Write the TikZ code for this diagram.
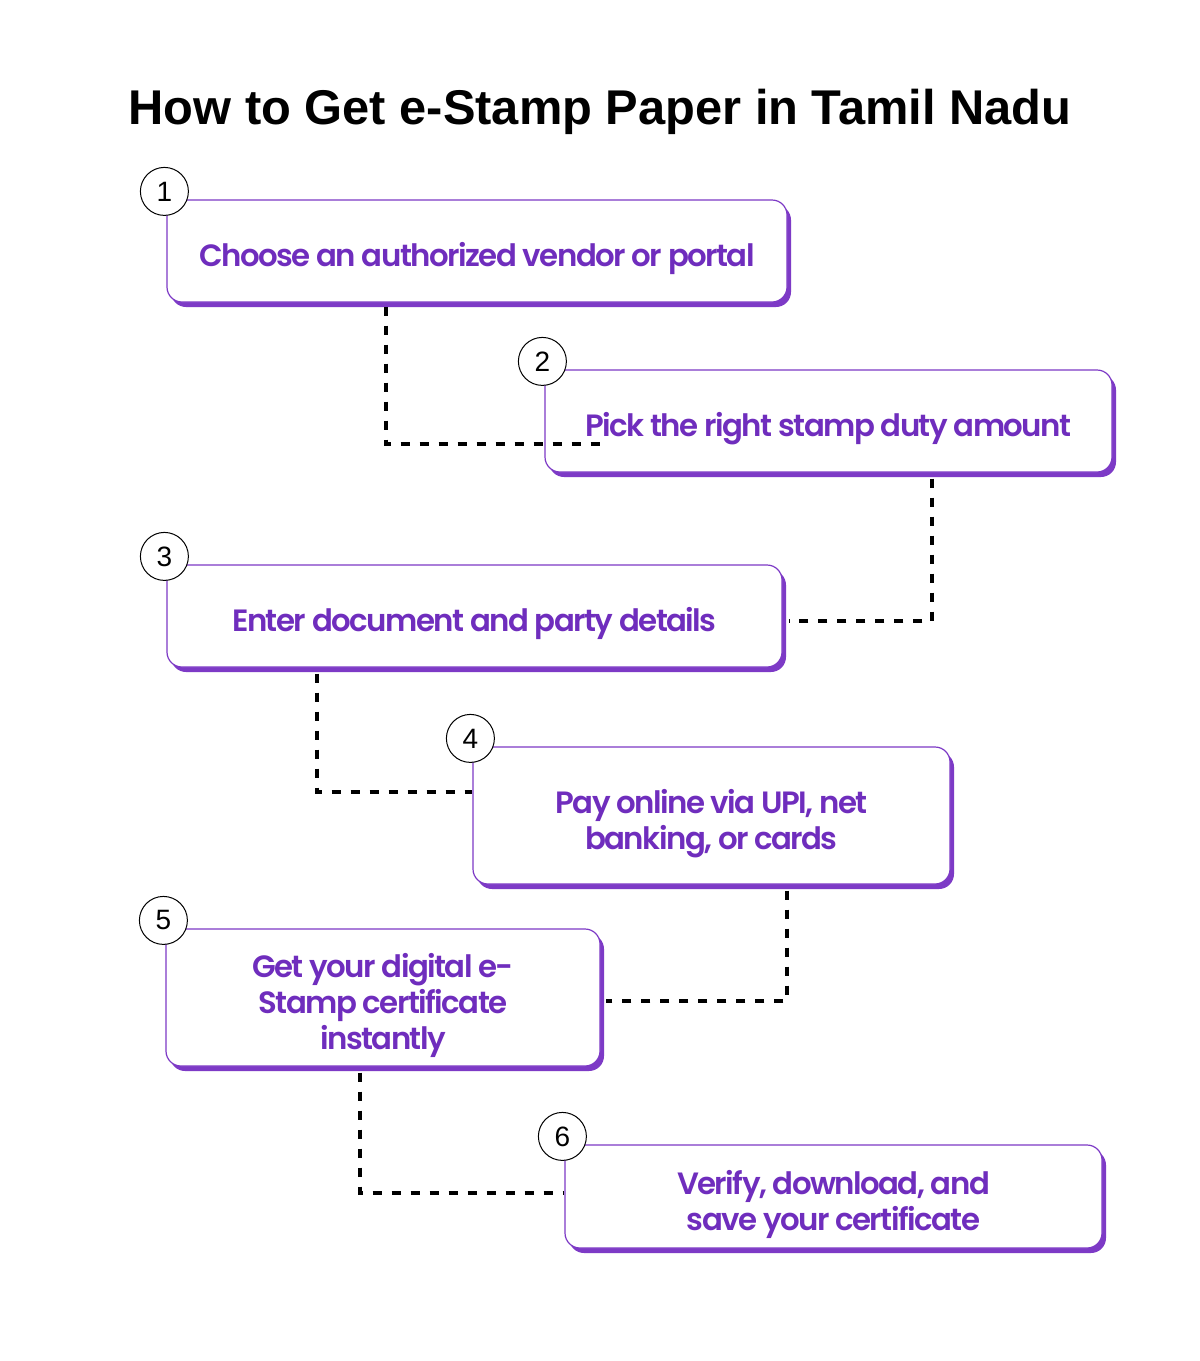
\documentclass[tikz,border=0pt]{standalone}
\usepackage{fontspec}
\usetikzlibrary{shadows}
\newfontfamily\titlefont{Liberation Sans}
\newfontfamily\stepfont{Poppins SemiBold}[LetterSpace=-5]
\definecolor{stepviolet}{HTML}{7D3AC6}
\definecolor{steptext}{HTML}{6F2DBD}
\newcommand{\steplift}{\rule{0pt}{15.5pt}}

\begin{document}
\begin{tikzpicture}[x=0.5pt, y=-0.5pt,
  stepbox/.style={draw=stepviolet, line width=0.6pt, fill=white, rounded corners=7.5pt,
    drop shadow={shadow xshift=2pt, shadow yshift=-2.5pt, fill=stepviolet, opacity=1},
    text=steptext, align=center, inner sep=0pt, text depth=0pt,
    font=\stepfont\fontsize{15.4}{18}\selectfont},
  stepnum/.style={circle, draw=black, line width=0.5pt, fill=white, minimum size=24pt,
    inner sep=0pt, font=\titlefont\fontsize{14}{14}\selectfont},
  link/.style={draw=black, line width=2pt, dash pattern=on 4.5pt off 5pt}]

  % ---- Canvas ----
  \fill[white] (0,0) rectangle (1200,1361);
  \useasboundingbox (0,0) rectangle (1200,1361);

  % ---- Title ----
  \node[font=\titlefont\bfseries\fontsize{24.4}{28}\selectfont] (title) at (600,112)
    {How to Get e-Stamp Paper in Tamil Nadu};

  % ---- Steps ----
  \node[stepbox, minimum width=310pt, minimum height=51pt] (s1) at (477,251)
    {\steplift Choose an authorized vendor or portal};
  \node[stepbox, minimum width=283.5pt, minimum height=51pt] (s2) at (828.5,421)
    {\steplift Pick the right stamp duty amount};
  \node[stepbox, minimum width=307.5pt, minimum height=51pt] (s3) at (474.5,616)
    {\steplift Enter document and party details};
  \node[stepbox, minimum width=238.5pt, minimum height=68.5pt] (s4) at (711.5,815.5)
    {\steplift Pay online via UPI, net\\banking, or cards};
  \node[stepbox, minimum width=217pt, minimum height=68.5pt] (s5) at (383,997.5)
    {\steplift Get your digital e-\\Stamp certificate\\instantly};
  \node[stepbox, minimum width=268.5pt, minimum height=51.5pt] (s6) at (833.5,1196.5)
    {\steplift Verify, download, and\\save your certificate};

  % ---- Step numbers ----
  \foreach \i in {1,...,6}
    \node[stepnum] (n\i) at ([shift={(-2,-8)}]s\i.north west) {\i};

  % ---- Dashed links ----
  \draw[link] ([shift={(-91,4)}]s1.south) |- ([shift={(58,23)}]s2.west);
  \draw[link] ([shift={(103.5,6)}]s2.south) |- ([shift={(6,5)}]s3.east);
  \draw[link] ([shift={(-157.5,6)}]s3.south) |- ([shift={(0,-23.5)}]s4.west);
  \draw[link] ([shift={(75.5,6)}]s4.south) |- ([shift={(5,3.5)}]s5.east);
  \draw[link] ([shift={(-23,6)}]s5.south) |- ([shift={(0,-3.5)}]s6.west);

\end{tikzpicture}
\end{document}
